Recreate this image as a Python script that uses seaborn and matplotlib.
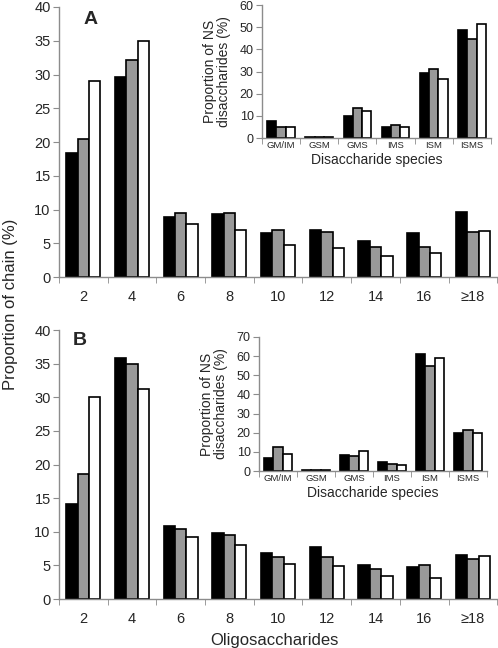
import matplotlib
matplotlib.use("Agg")
import matplotlib.pyplot as plt
import numpy as np
import pandas as pd
import seaborn as sns

# Main panels: proportion of chain (%) per oligosaccharide size
oligo = ["2", "4", "6", "8", "10", "12", "14", "16", "\u226518"]
series = ["s1", "s2", "s3"]
a_s1 = [18.3, 29.7, 8.9, 9.3, 6.5, 7.0, 5.4, 6.5, 9.7]
a_s2 = [20.4, 32.2, 9.5, 9.5, 7.0, 6.7, 4.4, 4.5, 6.7]
a_s3 = [29.1, 35.0, 7.9, 6.9, 4.7, 4.3, 3.1, 3.5, 6.8]
b_s1 = [14.2, 35.9, 10.9, 9.75, 6.8, 7.7, 5.1, 4.8, 6.5]
b_s2 = [18.6, 34.9, 10.4, 9.45, 6.2, 6.3, 4.5, 5.0, 6.0]
b_s3 = [30.0, 31.3, 9.2, 8.0, 5.2, 4.9, 3.4, 3.1, 6.4]

# Insets: proportion of NS disaccharides (%)
disacc = ["GM/IM", "GSM", "GMS", "IMS", "ISM", "ISMS"]
ia_s1 = [7.5, 0.3, 10.0, 5.0, 29.5, 48.9]
ia_s2 = [5.2, 0.5, 13.5, 5.7, 31.3, 44.8]
ia_s3 = [5.2, 0.6, 12.4, 5.0, 26.5, 51.6]
ib_s1 = [6.8, 0.6, 8.5, 4.5, 61.3, 20.0]
ib_s2 = [12.7, 0.5, 8.0, 3.8, 55.0, 21.2]
ib_s3 = [8.7, 0.4, 10.3, 3.1, 59.2, 19.7]

palette = ["black", "#999999", "white"]
axis_col = "#8c8c8c"

sns.set_style("white")
plt.rcParams["font.family"] = ["Liberation Sans", "DejaVu Sans"]


def long_df(cats, s1, s2, s3):
    rows = []
    for name, vals in zip(series, [s1, s2, s3]):
        for c, v in zip(cats, vals):
            rows.append({"cat": c, "series": name, "value": v})
    return pd.DataFrame(rows)


def style_axes(ax, n, ymax, ystep, ytick_size, xtick_size, pad):
    ax.set_xlim(-0.5, n - 0.5)
    ax.set_ylim(0, ymax)
    ax.set_yticks(np.arange(0, ymax + 1, ystep))
    ax.set_xticks(np.arange(-0.5, n, 1), minor=True)
    sns.despine(ax=ax)
    for s in ["left", "bottom"]:
        ax.spines[s].set_color(axis_col)
        ax.spines[s].set_linewidth(1.0)
    ax.tick_params(axis="x", which="major", length=0, labelsize=xtick_size, pad=pad)
    ax.tick_params(axis="x", which="minor", length=4, color=axis_col, direction="out", bottom=True)
    ax.tick_params(axis="y", length=4, color=axis_col, direction="out", left=True,
                   labelsize=ytick_size, pad=2)
    ax.set_xlabel("")
    ax.set_ylabel("")


def bars(ax, df, width):
    sns.barplot(data=df, x="cat", y="value", hue="series", hue_order=series,
                palette=palette, edgecolor="black", linewidth=1.2, width=width,
                gap=0, saturation=1, ax=ax, legend=False)


fig = plt.figure(figsize=(4.98, 6.48), dpi=100)

ax_a = fig.add_axes([0.1185, 0.5725, 0.88, 0.4167])
bars(ax_a, long_df(oligo, a_s1, a_s2, a_s3), 0.7)
style_axes(ax_a, 9, 40, 5, 10.5, 10.5, 9)
ax_a.text(0.14, 38.2, "A", fontsize=14, fontweight="bold", ha="center", va="center")

ax_b = fig.add_axes([0.1185, 0.0756, 0.88, 0.415])
bars(ax_b, long_df(oligo, b_s1, b_s2, b_s3), 0.7)
style_axes(ax_b, 9, 40, 5, 10.5, 10.5, 9)
ax_b.text(-0.07, 38.5, "B", fontsize=14, fontweight="bold", ha="center", va="center")

for pos, vals, ymax in [([0.526, 0.787, 0.46, 0.205], (ia_s1, ia_s2, ia_s3), 60),
                        ([0.520, 0.273, 0.458, 0.207], (ib_s1, ib_s2, ib_s3), 70)]:
    ins = fig.add_axes(pos)
    bars(ins, long_df(disacc, *vals), 0.72)
    style_axes(ins, 6, ymax, 10, 9, 6.8, 2)
    ins.set_xlabel("Disaccharide species", fontsize=10, labelpad=2)
    ins.set_ylabel("Proportion of NS\ndisaccharides (%)", fontsize=10, labelpad=6,
                   linespacing=1.05)

fig.text(0.022, 0.53, "Proportion of chain (%)", rotation=90, fontsize=12,
         ha="center", va="center")
fig.text(0.552, 0.012, "Oligosaccharides", fontsize=12, ha="center", va="center")

fig.savefig("out.png", dpi=100)
